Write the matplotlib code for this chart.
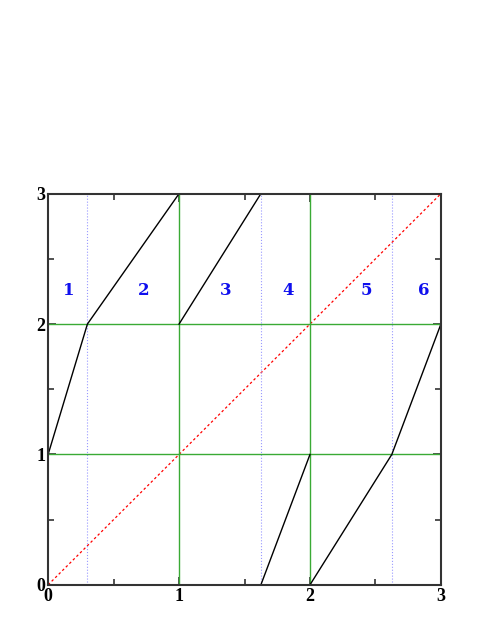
import matplotlib
matplotlib.use("Agg")
import matplotlib.pyplot as plt
from matplotlib.ticker import MultipleLocator

# black piecewise map, one segment list per branch
branch_x = [[0, 0.3, 1], [1, 1.625], [1.625, 2], [2, 2.625, 3]]
branch_y = [[1, 2, 3], [2, 3], [0, 1], [0, 1, 2]]

dotted_x = [0.3, 1.625, 2.625]
green_x = [1, 2]
green_y = [1, 2]

region_labels = ["1", "2", "3", "4", "5", "6"]
region_x = [0.16, 0.73, 1.36, 1.83, 2.43, 2.87]
region_y = 2.26

fig = plt.figure(figsize=(4.91, 6.35), dpi=100)
ax = fig.add_axes([0.098, 0.079, 0.800, 0.616])

ax.plot([0, 3], [0, 3], color="red", ls=(0, (2, 2)), lw=0.9)
for x in dotted_x:
    ax.axvline(x, color="#9999ff", ls=":", lw=0.8)
for x in green_x:
    ax.axvline(x, color="#3aaa35", lw=1.0)
for y in green_y:
    ax.axhline(y, color="#3aaa35", lw=1.0)
for bx, by in zip(branch_x, branch_y):
    ax.plot(bx, by, color="black", lw=1.0)

for lab, x in zip(region_labels, region_x):
    t = ax.text(x, region_y, lab, color="#1010ee", fontsize=12, fontweight="heavy",
                family="DejaVu Serif", ha="center", va="center")
    t.set_transform(t.get_transform())

ax.set_xlim(0, 3)
ax.set_ylim(0, 3)
ax.xaxis.set_major_locator(MultipleLocator(1))
ax.yaxis.set_major_locator(MultipleLocator(1))
ax.xaxis.set_minor_locator(MultipleLocator(0.5))
ax.yaxis.set_minor_locator(MultipleLocator(0.5))
ax.tick_params(which="both", direction="in", top=True, right=True, width=1.2, color="#333333")
ax.tick_params(which="major", length=6, labelsize=13, pad=2)
ax.tick_params(which="minor", length=4)
for lbl in ax.get_xticklabels() + ax.get_yticklabels():
    lbl.set_family("Liberation Serif")
    lbl.set_fontweight("bold")
for s in ax.spines.values():
    s.set_linewidth(1.5)
    s.set_color("#333333")

fig.savefig("out.png", dpi=100)
